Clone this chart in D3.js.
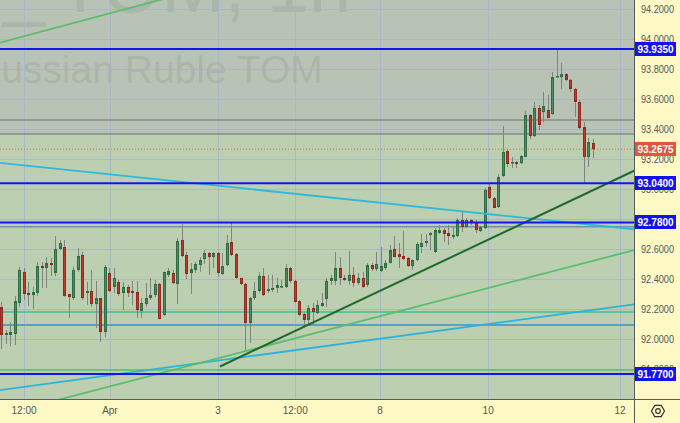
<!DOCTYPE html>
<html><head><meta charset="utf-8">
<script src="https://cdn.jsdelivr.net/npm/d3@7"></script>
<style>html,body{margin:0;padding:0;background:#fff9c6;overflow:hidden}svg{display:block}</style>
</head><body>
<svg id="c" width="680" height="423"></svg>
<script>
// ---- data (USDRUB_TOM, 1h) ----
const open = [92.216,92.030,92.030,92.036,92.243,92.450,92.310,92.296,92.310,92.489,
92.476,92.509,92.443,92.603,92.616,92.303,92.276,92.463,92.563,92.310,
92.323,92.236,92.276,92.050,92.443,92.350,92.383,92.310,92.350,92.323,
92.316,92.190,92.236,92.276,92.296,92.370,92.163,92.430,92.443,92.370,
92.663,92.563,92.443,92.463,92.496,92.536,92.576,92.549,92.576,92.436,
92.496,92.649,92.569,92.410,92.370,92.110,92.276,92.323,92.423,92.323,
92.330,92.343,92.350,92.350,92.476,92.390,92.256,92.170,92.130,92.210,
92.176,92.223,92.270,92.390,92.390,92.476,92.410,92.390,92.430,92.376,
92.410,92.363,92.496,92.469,92.456,92.476,92.509,92.603,92.569,92.556,
92.543,92.489,92.529,92.616,92.643,92.696,92.583,92.709,92.729,92.709,
92.683,92.689,92.796,92.749,92.796,92.782,92.722,92.742,93.016,92.942,
92.882,93.089,93.255,93.175,93.182,93.175,93.215,93.495,93.355,93.542,
93.515,93.529,93.502,93.748,93.748,93.768,93.729,93.669,93.582,93.415,
93.215,93.309];
const high = [92.250,92.063,92.116,92.290,92.483,92.476,92.383,92.350,92.516,92.516,
92.549,92.543,92.689,92.663,92.663,92.303,92.483,92.609,92.583,92.383,
92.463,92.390,92.276,92.496,92.476,92.476,92.396,92.383,92.363,92.390,
92.390,92.276,92.376,92.410,92.396,92.376,92.450,92.476,92.463,92.676,
92.769,92.583,92.509,92.516,92.549,92.596,92.583,92.583,92.583,92.576,
92.696,92.776,92.576,92.410,92.376,92.283,92.383,92.450,92.476,92.430,
92.430,92.410,92.396,92.503,92.483,92.396,92.263,92.176,92.230,92.243,
92.263,92.310,92.410,92.430,92.583,92.549,92.430,92.589,92.483,92.443,
92.450,92.509,92.509,92.583,92.616,92.529,92.629,92.689,92.643,92.722,
92.549,92.536,92.649,92.702,92.702,92.716,92.742,92.762,92.742,92.762,
92.749,92.809,92.849,92.809,92.802,92.796,92.756,93.009,93.042,92.949,
93.102,93.422,93.269,93.215,93.189,93.229,93.522,93.502,93.582,93.562,
93.649,93.629,93.782,93.935,93.842,93.775,93.735,93.675,93.595,93.449,
93.342,93.335];
const low = [91.936,91.970,91.956,91.963,92.216,92.263,92.223,92.203,92.290,92.343,
92.343,92.423,92.423,92.596,92.283,92.143,92.263,92.450,92.263,92.230,
92.216,92.076,91.983,92.016,92.316,92.310,92.290,92.196,92.283,92.230,
92.143,92.143,92.216,92.263,92.283,92.136,92.156,92.416,92.370,92.236,
92.549,92.403,92.303,92.443,92.450,92.503,92.430,92.476,92.416,92.430,
92.489,92.556,92.403,92.363,91.916,91.976,92.263,92.310,92.290,92.310,
92.316,92.310,92.343,92.343,92.376,92.243,92.156,92.083,92.090,92.103,
92.170,92.216,92.216,92.363,92.363,92.363,92.390,92.363,92.350,92.363,
92.343,92.350,92.456,92.456,92.450,92.463,92.509,92.549,92.476,92.529,
92.483,92.463,92.523,92.576,92.616,92.596,92.576,92.702,92.649,92.629,
92.669,92.683,92.716,92.742,92.762,92.709,92.716,92.736,92.936,92.876,
92.876,93.082,93.149,93.142,93.142,93.169,93.215,93.335,93.349,93.395,
93.449,93.475,93.495,93.748,93.669,93.722,93.649,93.482,93.402,93.042,
93.149,93.209];
const close = [92.030,92.043,92.050,92.256,92.463,92.303,92.296,92.316,92.489,92.476,
92.509,92.496,92.603,92.643,92.290,92.283,92.463,92.556,92.276,92.323,
92.236,92.276,92.050,92.483,92.323,92.410,92.303,92.350,92.310,92.310,
92.196,92.243,92.276,92.296,92.370,92.136,92.450,92.456,92.376,92.656,
92.556,92.436,92.469,92.503,92.529,92.576,92.549,92.576,92.443,92.489,
92.643,92.563,92.410,92.370,92.110,92.276,92.323,92.423,92.296,92.336,
92.343,92.363,92.356,92.476,92.390,92.250,92.163,92.130,92.210,92.183,
92.230,92.243,92.390,92.410,92.476,92.410,92.396,92.430,92.376,92.410,
92.350,92.496,92.469,92.503,92.489,92.509,92.596,92.549,92.549,92.536,
92.489,92.529,92.636,92.643,92.656,92.709,92.729,92.729,92.702,92.689,
92.696,92.796,92.749,92.796,92.776,92.729,92.749,92.996,92.942,92.876,
93.082,93.249,93.169,93.182,93.169,93.222,93.495,93.355,93.542,93.429,
93.555,93.475,93.748,93.755,93.768,93.729,93.669,93.582,93.409,93.215,
93.315,93.2675];

const priceTicks = [91.8,92.0,92.2,92.4,92.6,92.8,93.0,93.2,93.4,93.6,93.8,94.0,94.2];
const timeTickPos = [5.1,24.1,48.0,65.1,83.9,107.8,137.0];
const timeTickLabels = ["12:00","Apr","3","12:00","8","10","12"];

const keyLevels = [93.935,93.04,92.78,91.77];      // blue horizontal lines with labels
const grayLevels = [93.462,93.369];
const slateLevel = 92.751;
const tealLevel = 92.183;
const steelLevel = 92.096;
const greenLevel = 91.796;
const lastPrice = 93.2675;
const shadeFrom = 93.369;

// trend lines: [index0, price0, index1, price1]
const cyanDown = [-0.2, 93.176, 140.1, 92.734];
const cyanUp = [-0.2, 91.663, 140.1, 92.234];
const greenUp = [12.55, 91.597, 140.1, 92.595];
const greenTop = [-0.2, 93.977, 37.4, 94.280];
const darkTrend = [48.46, 91.820, 140.1, 93.124];

const watermark1a = "USDRUB_", watermark1b = "TOM, 1h", watermark2 = "Russian Ruble TOM";

// ---- drawing ----
const svg = d3.select('#c');
const PW = 634, PH = 399;
const x = d3.scaleLinear().domain([0, open.length - 1]).range([1, 593]);
const y = d3.scaleLinear().domain([91.77, 93.935]).range([374, 49]);

svg.append('rect').attr('width',680).attr('height',423).attr('fill','#fff9c6');
svg.append('clipPath').attr('id','pc').append('rect').attr('width',PW).attr('height',PH);
const plot = svg.append('g').attr('clip-path','url(#pc)');

plot.append('rect').attr('width',PW).attr('height',PH).attr('fill','#bdcfb1');
plot.append('rect').attr('width',PW).attr('height',y(shadeFrom)).attr('fill','#b9c3b5');

// watermark
const wm = plot.append('g').attr('fill','#7c877a').attr('fill-opacity',0.22).attr('font-family','Liberation Sans, Arial, sans-serif');
wm.append('text').attr('x',45).attr('y',12).attr('font-size',76).attr('text-anchor','end').text(watermark1a);
wm.append('text').attr('x',57).attr('y',12).attr('font-size',76).text(watermark1b);
wm.append('text').attr('x',-27).attr('y',83).attr('font-size',39).text(watermark2);

// grid
const grid = plot.append('g').attr('stroke','#a3b3cc').attr('stroke-opacity',0.75).attr('stroke-width',1);
grid.selectAll('line.h').data(priceTicks).join('line')
  .attr('x1',0).attr('x2',PW).attr('y1',d=>Math.round(y(d))+0.5).attr('y2',d=>Math.round(y(d))+0.5);
grid.selectAll('line.v').data(timeTickPos).join('line')
  .attr('y1',0).attr('y2',PH).attr('x1',d=>Math.round(x(d))+0.5).attr('x2',d=>Math.round(x(d))+0.5);

// horizontal drawings
function hline(p, color, w, dash){
  const yy = y(p);
  const l = plot.append('line').attr('x1',0).attr('x2',PW).attr('y1',yy).attr('y2',yy)
    .attr('stroke',color).attr('stroke-width',w);
  if (dash) l.attr('stroke-dasharray',dash);
}
grayLevels.forEach(p=>hline(p,'#868b86',1.5));
hline(slateLevel,'#6f92b2',1.5);
hline(tealLevel,'#3fbf9e',1.5);
hline(steelLevel,'#5a9fc6',2);
hline(greenLevel,'#55c06c',1.5);
hline(lastPrice,'#d9704a',1,'1,2');

// candles
const idx = d3.range(open.length);
const cg = plot.append('g');
cg.selectAll('line').data(idx).join('line')
  .attr('x1',i=>Math.round(x(i))+0.5).attr('x2',i=>Math.round(x(i))+0.5)
  .attr('y1',i=>y(high[i])).attr('y2',i=>y(low[i]))
  .attr('stroke','#7f8480').attr('stroke-width',1);
cg.selectAll('rect').data(idx).join('rect')
  .attr('x',i=>Math.round(x(i))-0.5)
  .attr('width',2)
  .attr('y',i=>y(Math.max(open[i],close[i]))+0.5)
  .attr('height',i=>Math.max(0.5, Math.abs(y(open[i])-y(close[i]))-1))
  .attr('fill',i=>close[i]>=open[i]?'#4c8e61':'#bd3a2d')
  .attr('stroke',i=>close[i]>=open[i]?'#2f6c44':'#8f2b21')
  .attr('stroke-width',1);

// trend lines
function tline(t, color, w){
  plot.append('line').attr('x1',x(t[0])).attr('y1',y(t[1])).attr('x2',x(t[2])).attr('y2',y(t[3]))
    .attr('stroke',color).attr('stroke-width',w);
}
tline(cyanDown,'#2cb9dc',1.8);
tline(cyanUp,'#2ab4dc',1.8);
tline(greenUp,'#5cbd6e',1.8);
tline(greenTop,'#5cbd6e',1.8);
tline(darkTrend,'#1e6a2b',2);

keyLevels.forEach(p=>hline(p,'#1414ec',2));

// axes frame
svg.append('line').attr('x1',PW+0.5).attr('x2',PW+0.5).attr('y1',0).attr('y2',423).attr('stroke','#5a5a5a');
svg.append('line').attr('x1',0).attr('x2',680).attr('y1',PH+0.5).attr('y2',PH+0.5).attr('stroke','#5a5a5a');

// price axis labels
const fmt = d3.format('.4f');
svg.append('g').selectAll('text').data(priceTicks).join('text')
  .attr('x',641).attr('y',d=>y(d)+3.5)
  .attr('font-family','Liberation Sans, Arial, sans-serif').attr('font-size',10)
  .attr('fill','#555').attr('textLength',33).attr('lengthAdjust','spacingAndGlyphs')
  .text(d=>fmt(d));

// price labels
function plabel(p, color){
  const g = svg.append('g');
  g.append('rect').attr('x',635).attr('y',Math.round(y(p))-7).attr('width',41).attr('height',14).attr('fill',color);
  g.append('text').attr('x',655.5).attr('y',Math.round(y(p))+3.8).attr('text-anchor','middle')
    .attr('font-family','Liberation Sans, Arial, sans-serif').attr('font-size',10).attr('font-weight','bold')
    .attr('fill','#fff').text(fmt(p));
}
keyLevels.forEach(p=>plabel(p,'#1212f0'));
plabel(lastPrice,'#e0553f');

// time axis labels
svg.append('g').selectAll('text').data(timeTickPos).join('text')
  .attr('x',d=>x(d)).attr('y',414)
  .attr('text-anchor','middle')
  .attr('font-family','Liberation Sans, Arial, sans-serif').attr('font-size',10)
  .attr('fill','#555').text((d,i)=>timeTickLabels[i]);

// settings icon
const ic = svg.append('g').attr('transform','translate(658,411)').attr('fill','none').attr('stroke','#333').attr('stroke-width',1.2);
ic.append('path').attr('d', d3.range(6).map((k,j)=>{const a=Math.PI/3*k; return (j?'L':'M')+(6.5*Math.cos(a)).toFixed(2)+','+(6.5*Math.sin(a)).toFixed(2);}).join('')+'Z');
ic.append('circle').attr('r',2.3);
</script>
</body></html>
